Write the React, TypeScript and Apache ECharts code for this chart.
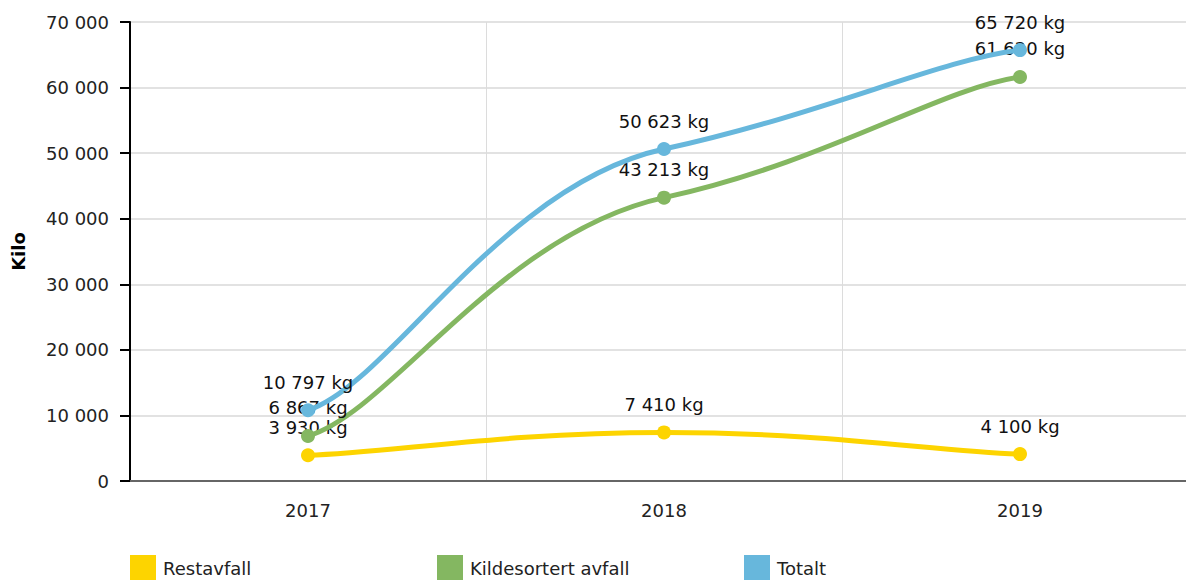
import React, { useEffect, useRef } from "react";
import * as echarts from "echarts";

const categories = ["2017", "2018", "2019"];
const restavfall = [3930, 7410, 4100];
const kildesortert = [6867, 43213, 61620];
const totalt = [10797, 50623, 65720];
const seriesNames = ["Restavfall", "Kildesortert avfall", "Totalt"];
const colors = ["#fdd400", "#84b761", "#67b7dc"];

const FONT = "DejaVu Sans";
const TX = 0.23;
const TY = 0.1;
const fmt = (v: number) => String(v).replace(/\B(?=(\d{3})+(?!\d))/g, " ");

export default function App() {
  const ref = useRef<HTMLDivElement>(null);
  useEffect(() => {
    document.body.style.margin = "0";
    document.body.style.overflow = "hidden";
    const chart = echarts.init(ref.current!, undefined, { renderer: "svg" });
    const datasets = [restavfall, kildesortert, totalt];

    const curveSeries = datasets.map((vals, k) => ({
      type: "custom",
      name: "curve" + k,
      z: 2 + k,
      silent: true,
      data: vals.slice(0, -1).map((v, i) => [i, v]),
      encode: { x: 0, y: 1 },
      renderItem: (params: any, api: any) => {
        const i = params.dataIndex;
        const pts = vals.map((v, j) => api.coord([j, v]));
        const p1 = pts[i];
        const p2 = pts[i + 1];
        const p0 = i === 0 ? p1 : pts[i - 1];
        const p3 = i + 2 < pts.length ? pts[i + 2] : p2;
        const cpx1 = p1[0] + (p2[0] - p0[0]) * TX;
        const cpy1 = p1[1] + (p2[1] - p0[1]) * TY;
        const cpx2 = p2[0] - (p3[0] - p1[0]) * TX;
        const cpy2 = p2[1] - (p3[1] - p1[1]) * TY;
        return {
          type: "bezierCurve",
          shape: { x1: p1[0], y1: p1[1], x2: p2[0], y2: p2[1], cpx1, cpy1, cpx2, cpy2 },
          style: { stroke: colors[k], lineWidth: 5, fill: null, lineCap: "round" },
        };
      },
    }));

    const pointSeries = datasets.map((d, i) => ({
      name: seriesNames[i],
      type: "line",
      data: d,
      z: 2 + i,
      symbol: "circle",
      symbolSize: 14,
      lineStyle: { width: 0, opacity: 0, color: colors[i] },
      itemStyle: { color: colors[i] },
      label: {
        show: true,
        position: "top",
        distance: 12,
        fontFamily: FONT,
        fontSize: 18,
        color: "#111",
        formatter: (p: any) => fmt(p.value) + " kg",
      },
    }));

    chart.setOption({
      animation: false,
      textStyle: { fontFamily: FONT },
      color: colors,
      grid: { left: 130, right: 0, top: 22, bottom: 99, containLabel: false },
      legend: seriesNames.map((n, i) => ({
        data: [n],
        left: 130 + i * 307,
        top: 555,
        padding: 0,
        itemWidth: 26,
        itemHeight: 26,
        icon: "rect",
        selectedMode: false,
        itemStyle: { color: colors[i], borderWidth: 0 },
        textStyle: { fontFamily: FONT, fontSize: 18, color: "#222", padding: [6, 0, 0, 2] },
      })),
      xAxis: {
        type: "category",
        data: categories,
        boundaryGap: true,
        axisLine: { lineStyle: { color: "#666", width: 2 } },
        axisTick: { alignWithLabel: true, length: 9, lineStyle: { color: "#999", width: 1 } },
        axisLabel: { fontFamily: FONT, fontSize: 18, color: "#222", margin: 20 },
        splitLine: { show: true, lineStyle: { color: "#dcdcdc", width: 1 } },
      },
      yAxis: {
        type: "value",
        min: 0,
        max: 70000,
        interval: 10000,
        name: "Kilo",
        nameLocation: "middle",
        nameRotate: 90,
        nameGap: 103,
        nameTextStyle: { fontFamily: FONT, fontSize: 18, fontWeight: "bold", color: "#000" },
        axisLine: { show: true, lineStyle: { color: "#000", width: 2 } },
        axisTick: { show: true, length: 10, lineStyle: { color: "#000", width: 2 } },
        axisLabel: { fontFamily: FONT, fontSize: 18, color: "#222", margin: 21, formatter: (v: number) => fmt(v) },
        splitLine: { lineStyle: { color: "#d8d8d8", width: 1.5 } },
      },
      series: [...curveSeries, ...pointSeries],
    });
    return () => chart.dispose();
  }, []);
  return (
    <div style={{ width: 1186, height: 580, overflow: "hidden", position: "relative" }}>
      <div ref={ref} style={{ width: 1198, height: 580 }} />
    </div>
  );
}
